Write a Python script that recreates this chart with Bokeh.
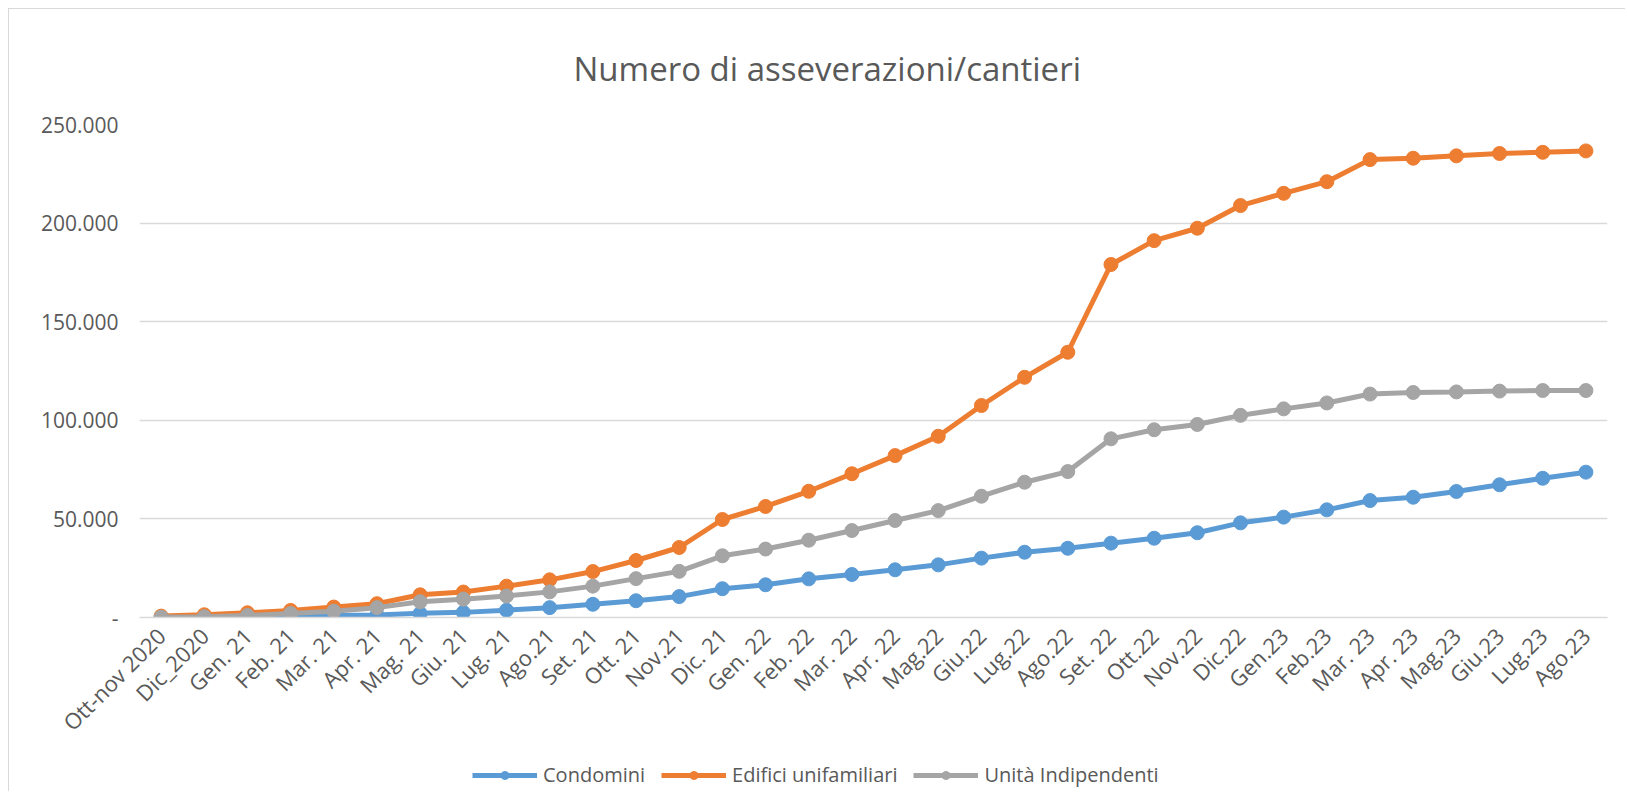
import math
from bokeh.plotting import figure
from bokeh.layouts import column
from bokeh.models import (FactorRange, Range1d, FixedTicker, Legend, LegendItem, Title, ColumnDataSource)
from bokeh.embed import file_html
from bokeh.resources import INLINE

categories = ["Ott-nov 2020", "Dic_2020", "Gen. 21", "Feb. 21", "Mar. 21", "Apr. 21", "Mag. 21",
              "Giu. 21", "Lug. 21", "Ago.21", "Set. 21", "Ott. 21", "Nov.21", "Dic. 21",
              "Gen. 22", "Feb. 22", "Mar. 22", "Apr. 22", "Mag.22", "Giu.22", "Lug.22", "Ago.22",
              "Set. 22", "Ott.22", "Nov.22", "Dic.22", "Gen.23", "Feb.23", "Mar. 23", "Apr. 23",
              "Mag.23", "Giu.23", "Lug.23", "Ago.23"]

condomini = [100, 200, 300, 600, 1000, 1300, 2100, 2600, 3700, 5000, 6700, 8500, 10600, 14600,
             16600, 19600, 21800, 24200, 26700, 30100, 33100, 35100, 37700, 40200, 43000, 48000,
             50900, 54600, 59300, 61000, 63900, 67300, 70600, 73700]

edifici_unifamiliari = [700, 1400, 2400, 3600, 5300, 7000, 11500, 12900, 15900, 19100, 23300,
                        28900, 35500, 49700, 56300, 64000, 72900, 82100, 91900, 107500, 121800,
                        134500, 179000, 191100, 197400, 208900, 215100, 221000, 232200, 232900,
                        234100, 235300, 235900, 236600]

unita_indipendenti = [200, 400, 1000, 2000, 3200, 5000, 8000, 9300, 10900, 13000, 15900, 19700,
                      23400, 31300, 34700, 39200, 44100, 49200, 54200, 61500, 68600, 74000, 90600,
                      95200, 97900, 102500, 105800, 108800, 113300, 114100, 114400, 114800, 115100,
                      115100]

series_names = ["Condomini", "Edifici unifamiliari", "Unità Indipendenti"]
series_values = [condomini, edifici_unifamiliari, unita_indipendenti]
series_colors = ["#5B9BD5", "#ED7D31", "#A5A5A5"]

y_ticks = [0, 50000, 100000, 150000, 200000, 250000]
y_tick_labels = ["-", "50.000", "100.000", "150.000", "200.000", "250.000"]

FONT = "Open Sans"
TEXT_COLOR = "#595959"
GRID_COLOR = "#D9D9D9"
LINE_W = 5
MARKER = 14
TOTAL_W = 1616

p = figure(x_range=FactorRange(*categories, range_padding=0),
           y_range=Range1d(0, 250000),
           frame_width=1468, frame_height=493,
           min_border_left=130, min_border_right=18, min_border_top=115, min_border_bottom=140,
           output_backend="svg", toolbar_location=None, title=None)
p.x_range.factor_padding = 0
p.outline_line_color = None
p.background_fill_color = "white"
p.border_fill_color = "white"

title = Title(text="Numero di asseverazioni/cantieri", align="left", offset=434,
              text_font=FONT, text_font_size="33px", text_font_style="normal",
              text_color=TEXT_COLOR, standoff=68)
p.add_layout(title, "above")

sources = []
for name, vals, col in zip(series_names, series_values, series_colors):
    src = ColumnDataSource(dict(x=categories, y=vals))
    sources.append(src)
    p.line("x", "y", source=src, line_color=col, line_width=LINE_W)
    p.scatter("x", "y", source=src, marker="circle", size=MARKER,
              fill_color=col, line_color=col)

# y axis
p.yaxis.ticker = FixedTicker(ticks=y_ticks)
p.yaxis.major_label_overrides = {t: l for t, l in zip(y_ticks, y_tick_labels)}
p.yaxis.axis_line_color = None
p.yaxis.major_tick_line_color = None
p.yaxis.minor_tick_line_color = None
p.yaxis.major_label_text_font = FONT
p.yaxis.major_label_text_font_size = "21px"
p.yaxis.major_label_text_color = TEXT_COLOR
p.yaxis.major_label_standoff = 15

# x axis
p.xaxis.axis_line_color = GRID_COLOR
p.xaxis.axis_line_width = 1.5
p.xaxis.major_tick_line_color = None
p.xaxis.minor_tick_line_color = None
p.xaxis.major_label_orientation = math.pi / 4
p.xaxis.major_label_text_font = FONT
p.xaxis.major_label_text_font_size = "22px"
p.xaxis.major_label_text_color = TEXT_COLOR
p.xaxis.major_label_standoff = 8

p.xgrid.grid_line_color = None
p.ygrid.grid_line_color = GRID_COLOR
p.ygrid.grid_line_width = 1.5

# legend strip: a small plot sharing the x range; its y range lies below the data,
# so the series themselves stay out of view and only the legend shows
lg = figure(width=TOTAL_W, height=34, x_range=p.x_range, y_range=Range1d(-3, -2),
            min_border=0, min_border_left=0, min_border_right=0, min_border_top=0,
            min_border_bottom=0, output_backend="svg", toolbar_location=None,
            x_axis_type=None, y_axis_type=None)
lg.outline_line_color = None
lg.xgrid.visible = False
lg.ygrid.visible = False
items = []
for name, col, src in zip(series_names, series_colors, sources):
    l1 = lg.line("x", "y", source=src, line_color=col, line_width=LINE_W)
    s1 = lg.scatter("x", "y", source=src, marker="circle", size=MARKER,
                    fill_color=col, line_color=col)
    items.append(LegendItem(label=name, renderers=[l1, s1], index=0))

legend = Legend(items=items, orientation="horizontal", location=(333, 3),
                label_text_font=FONT, label_text_font_size="20px", label_text_color=TEXT_COLOR,
                glyph_width=65, glyph_height=20, label_standoff=6, spacing=16,
                border_line_color=None, background_fill_alpha=0, padding=0, margin=0)
lg.add_layout(legend, "center")

layout = column(p, lg, spacing=0,
                styles={"margin-left": "8px", "margin-top": "8px",
                        "border-left": "1px solid #D9D9D9", "border-top": "1px solid #D9D9D9"})

open("out.html", "w").write(file_html(layout, INLINE))
